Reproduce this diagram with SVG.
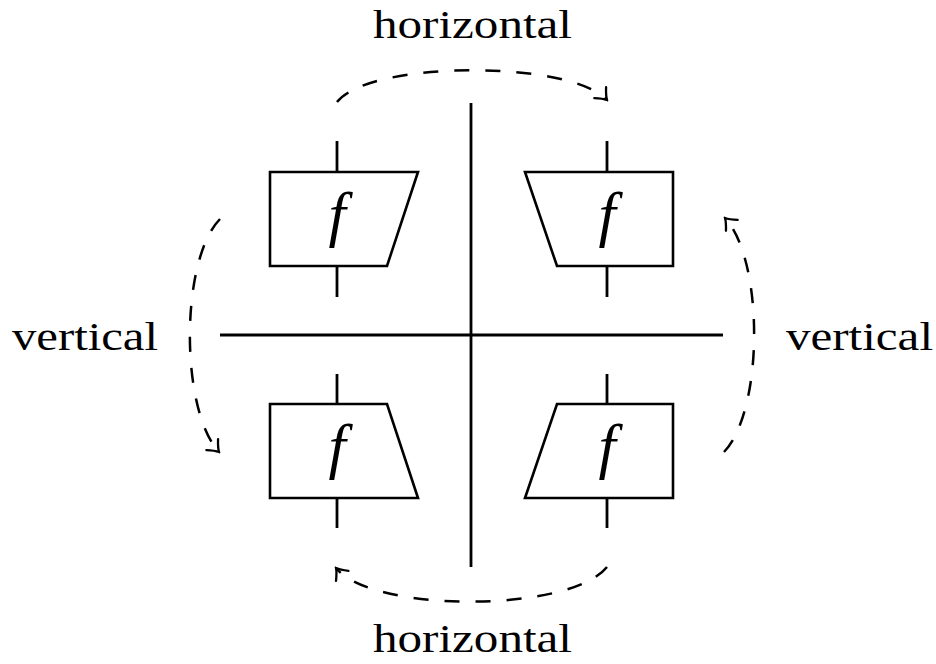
<svg xmlns="http://www.w3.org/2000/svg" width="936" height="664" viewBox="0 0 936 664">
<style>
.ln{stroke:#000;stroke-width:2.8;fill:none;stroke-linecap:butt}
.bx{stroke:#000;stroke-width:2.6;fill:#fff;stroke-linejoin:miter}
.dsh{stroke:#000;stroke-width:2.5;fill:none;stroke-dasharray:15 16}
.lbl{font-family:"Liberation Serif","DejaVu Serif",serif;font-size:41px;fill:#000}
.fx{font-family:"Liberation Serif","DejaVu Serif",serif;font-style:italic;font-size:62px;fill:#000;text-anchor:middle}
</style>
<defs>
<marker id="arr" viewBox="-13 -10 15 20" refX="0" refY="0" markerWidth="15" markerHeight="20" markerUnits="userSpaceOnUse" orient="auto">
<path d="M-10,-8 Q-4,-2 0,0 Q-4,2 -10,8" fill="none" stroke="#000" stroke-width="2.3" stroke-dasharray="none" stroke-linecap="round"/>
</marker>
</defs>
<g id="axes">
<line class="ln" x1="471" y1="103" x2="471" y2="567"/>
<line class="ln" x1="220" y1="335" x2="723" y2="335"/>
</g>
<g id="node-tl">
<line class="ln" x1="337" y1="141" x2="337" y2="172"/>
<line class="ln" x1="337" y1="266" x2="337" y2="297"/>
<polygon class="bx" points="270,172 418,172 387,266 270,266"/>
<text class="fx" x="337" y="235">f</text>
</g>
<g id="node-tr">
<line class="ln" x1="607" y1="141" x2="607" y2="172"/>
<line class="ln" x1="607" y1="266" x2="607" y2="297"/>
<polygon class="bx" points="525,172 673,172 673,266 557,266"/>
<text class="fx" x="607" y="235">f</text>
</g>
<g id="node-bl">
<line class="ln" x1="337" y1="374" x2="337" y2="404"/>
<line class="ln" x1="337" y1="498" x2="337" y2="528"/>
<polygon class="bx" points="270,404 387,404 418,498 270,498"/>
<text class="fx" x="337" y="467">f</text>
</g>
<g id="node-br">
<line class="ln" x1="607" y1="374" x2="607" y2="404"/>
<line class="ln" x1="607" y1="498" x2="607" y2="528"/>
<polygon class="bx" points="557,404 673,404 673,498 525,498"/>
<text class="fx" x="607" y="467">f</text>
</g>
<g id="connectors">
<path class="dsh" d="M337,102 C370,60 570,60 607,100" marker-end="url(#arr)"/>
<path class="dsh" d="M607,567 C570,613 372,613 336,568" marker-end="url(#arr)"/>
<path class="dsh" d="M220,219 C180,260 180,410 219,452" marker-end="url(#arr)"/>
<path class="dsh" d="M724,452 C764,410 764,260 725,218" marker-end="url(#arr)"/>
</g>
<g id="labels">
<text class="lbl" x="373" y="38" textLength="199" lengthAdjust="spacingAndGlyphs">horizontal</text>
<text class="lbl" x="373" y="652" textLength="199" lengthAdjust="spacingAndGlyphs">horizontal</text>
<text class="lbl" x="12" y="350" textLength="146" lengthAdjust="spacingAndGlyphs">vertical</text>
<text class="lbl" x="786" y="350" textLength="147" lengthAdjust="spacingAndGlyphs">vertical</text>
</g>
</svg>
